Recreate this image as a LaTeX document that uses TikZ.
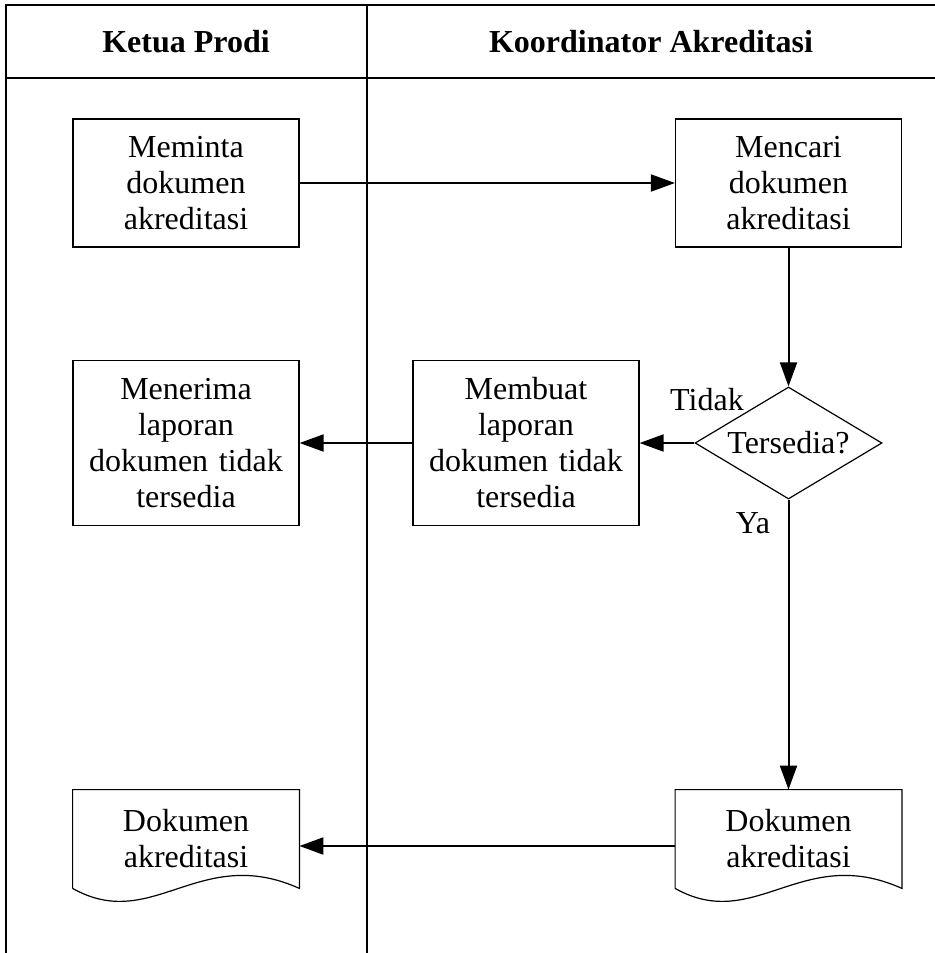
\documentclass[tikz,border=0pt]{standalone}
\usepackage{fontspec}
\setmainfont{Liberation Serif}
\usetikzlibrary{shapes.geometric,arrows.meta,calc}

% outline of a document symbol round a node
\newcommand{\dokbentuk}[1]{%
  \draw[line width=0.6pt] (#1.south west) -- (#1.north west) -- (#1.north east) -- (#1.south east)
    .. controls ($(#1.south east)+(-100,-45)$) and ($(#1.south west)+(80,45)$) .. (#1.south west);}

\begin{document}
\begin{tikzpicture}[
			x=0.5pt, y=-0.5pt,
			font=\fontsize{16}{18}\selectfont,
			garis/.style={line width=1.2pt},
			proses/.style={rectangle,draw,line width=0.6pt,text width=108pt,align=center,
				minimum width=113pt,minimum height=64pt,inner sep=0pt},
			laporan/.style={proses,minimum height=82.5pt},
			dokumen/.style={rectangle,text width=108pt,align=center,
				minimum width=113pt,minimum height=49pt,inner sep=0pt},
			keputusan/.style={diamond,draw,line width=0.6pt,shape aspect=1.68,
				minimum width=93.5pt,minimum height=56pt,inner sep=0pt},
			panah/.style={line width=1pt,-{Triangle[length=12pt,width=8.5pt]}},
			]
			\useasboundingbox (0,0) rectangle (935,953);
			% swimlanes
			\draw[garis] (6,953) -- (6,5) -- (935,5);
			\draw[garis] (6,78) -- (935,78);
			\draw[garis] (367,5) -- (367,953);
			\node [font=\fontsize{16}{18}\selectfont\bfseries] (hKetua) at (186,42) {Ketua Prodi};
			\node [font=\fontsize{16}{18}\selectfont\bfseries] (hKoord) at (651,42) {Koordinator Akreditasi};
			% steps
			\node [proses] (meminta) at (186,183) {Meminta\\ dokumen\\ akreditasi};
			\node [proses] (mencari) at (788.5,183) {Mencari\\ dokumen\\ akreditasi};
			\node [keputusan] (cek) at (788.5,443) {Tersedia?};
			\node [laporan] (membuat) at (526,443) {Membuat\\ laporan\\ dokumen tidak\\ tersedia};
			\node [laporan] (menerima) at (186,443) {Menerima\\ laporan\\ dokumen tidak\\ tersedia};
			\node [dokumen] (dokKoord) at (788.5,839) {Dokumen\\ akreditasi};
			\node [dokumen] (dokKetua) at (186,839) {Dokumen\\ akreditasi};
			\dokbentuk{dokKoord}
			\dokbentuk{dokKetua}
			\node (lblTidak) at (707,400) {Tidak};
			\node (lblYa) at (753,523) {Ya};
			% flow
			\draw [panah] (meminta) -- (mencari);
			\draw [panah] (mencari) -- (cek);
			\draw [panah] (cek) -- (membuat);
			\draw [panah] (membuat) -- (menerima);
			\draw [panah] (cek) -- (dokKoord);
			\draw [panah] ($(dokKoord.west)+(0,7)$) -- ($(dokKetua.east)+(0,7)$);
		\end{tikzpicture}
\end{document}
